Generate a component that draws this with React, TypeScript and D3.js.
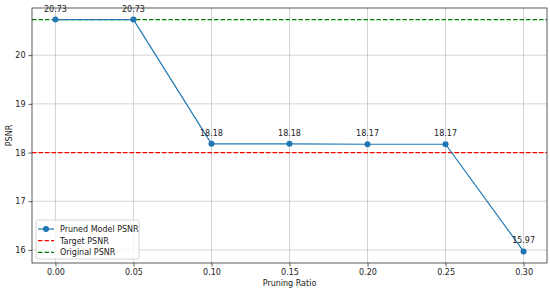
import React, { useRef, useEffect } from "react"
import * as d3 from "d3"

const width = 550
const height = 293
const margin = { top: 8, right: 3, bottom: 30, left: 32 }

const ratios = [0.0, 0.05, 0.1, 0.15, 0.2, 0.25, 0.3]
const psnr = [20.73, 20.73, 18.18, 18.18, 18.17, 18.17, 15.97]
const targetPsnr = 18
const originalPsnr = 20.73
const xTicks = [0.0, 0.05, 0.1, 0.15, 0.2, 0.25, 0.3]
const yTicks = [16, 17, 18, 19, 20]
const legendLabels = ["Pruned Model PSNR", "Target PSNR", "Original PSNR"]

const font = "DejaVu Sans, sans-serif"

const App = () => {
  const ref = useRef<SVGSVGElement>(null)

  useEffect(() => {
    if (!ref.current) return
    const svg = d3.select(ref.current)
    svg.selectAll("*").remove()

    const x = d3.scaleLinear().domain([-0.015, 0.315]).range([margin.left, width - margin.right])
    const y = d3.scaleLinear().domain([15.732, 20.968]).range([height - margin.bottom, margin.top])

    svg.append("rect").attr("width", width).attr("height", height).attr("fill", "#fff")

    // grid
    const grid = svg.append("g").attr("stroke", "#b0b0b0").attr("stroke-opacity", 0.7).attr("stroke-width", 0.8)
    xTicks.forEach(t => {
      grid.append("line").attr("x1", x(t)).attr("x2", x(t)).attr("y1", margin.top).attr("y2", height - margin.bottom)
    })
    yTicks.forEach(t => {
      grid.append("line").attr("x1", margin.left).attr("x2", width - margin.right).attr("y1", y(t)).attr("y2", y(t))
    })

    // axes
    const xAxis = d3.axisBottom(x).tickValues(xTicks).tickFormat(d3.format(".2f")).tickSize(3.5).tickPadding(3)
    const yAxis = d3.axisLeft(y).tickValues(yTicks).tickFormat(d3.format("d")).tickSize(3.5).tickPadding(3)
    const gx = svg.append("g").attr("transform", `translate(0,${height - margin.bottom})`).call(xAxis)
    const gy = svg.append("g").attr("transform", `translate(${margin.left},0)`).call(yAxis)
    ;[gx, gy].forEach(g => {
      g.select(".domain").remove()
      g.selectAll("text").attr("font-family", font).attr("font-size", 8).attr("fill", "#222")
      g.selectAll("line").attr("stroke", "#333").attr("stroke-width", 0.8)
    })

    // reference lines
    svg.append("line")
      .attr("x1", margin.left).attr("x2", width - margin.right)
      .attr("y1", y(targetPsnr)).attr("y2", y(targetPsnr))
      .attr("stroke", "red").attr("stroke-width", 1.2).attr("stroke-dasharray", "4.5,2")
    svg.append("line")
      .attr("x1", margin.left).attr("x2", width - margin.right)
      .attr("y1", y(originalPsnr)).attr("y2", y(originalPsnr))
      .attr("stroke", "green").attr("stroke-width", 1.2).attr("stroke-dasharray", "4.5,2")

    // series
    const line = d3.line<number>().x((_, i) => x(ratios[i])).y(d => y(d))
    svg.append("path").datum(psnr).attr("d", line).attr("fill", "none").attr("stroke", "#1f77b4").attr("stroke-width", 1.2)
    svg.selectAll("circle.pt").data(psnr).enter().append("circle")
      .attr("cx", (_, i) => x(ratios[i])).attr("cy", d => y(d)).attr("r", 3).attr("fill", "#1f77b4")

    svg.selectAll("text.lbl").data(psnr).enter().append("text")
      .attr("x", (_, i) => x(ratios[i])).attr("y", d => y(d) - 8)
      .attr("text-anchor", "middle").attr("font-family", font).attr("font-size", 8).attr("fill", "#222")
      .text(d => d.toFixed(2))

    // frame
    svg.append("rect")
      .attr("x", margin.left).attr("y", margin.top)
      .attr("width", width - margin.left - margin.right).attr("height", height - margin.top - margin.bottom)
      .attr("fill", "none").attr("stroke", "#333").attr("stroke-width", 0.8)

    // axis labels
    svg.append("text").attr("x", (margin.left + width - margin.right) / 2).attr("y", 286)
      .attr("text-anchor", "middle").attr("font-family", font).attr("font-size", 8).attr("fill", "#222").text("Pruning Ratio")
    svg.append("text").attr("transform", `translate(12,${(margin.top + height - margin.bottom) / 2}) rotate(-90)`)
      .attr("text-anchor", "middle").attr("font-family", font).attr("font-size", 8).attr("fill", "#222").text("PSNR")

    // legend
    const lg = svg.append("g").attr("transform", "translate(36,220)")
    lg.append("rect").attr("width", 103).attr("height", 39).attr("rx", 2)
      .attr("fill", "#fff").attr("fill-opacity", 0.8).attr("stroke", "#ccc").attr("stroke-width", 0.8)
    const colors = ["#1f77b4", "red", "green"]
    legendLabels.forEach((lab, i) => {
      const yy = 9 + i * 11.7
      const l = lg.append("line").attr("x1", 2).attr("x2", 18).attr("y1", yy).attr("y2", yy)
        .attr("stroke", colors[i]).attr("stroke-width", 1.2)
      if (i > 0) l.attr("stroke-dasharray", "4.5,2")
      else lg.append("circle").attr("cx", 10).attr("cy", yy).attr("r", 3).attr("fill", colors[i])
      lg.append("text").attr("x", 24).attr("y", yy + 3).attr("font-family", font).attr("font-size", 8)
        .attr("fill", "#222").text(lab)
    })
  }, [])

  return <svg ref={ref} width={width} height={height} style={{ position: "absolute", left: 0, top: 0 }} />
}

export default App
